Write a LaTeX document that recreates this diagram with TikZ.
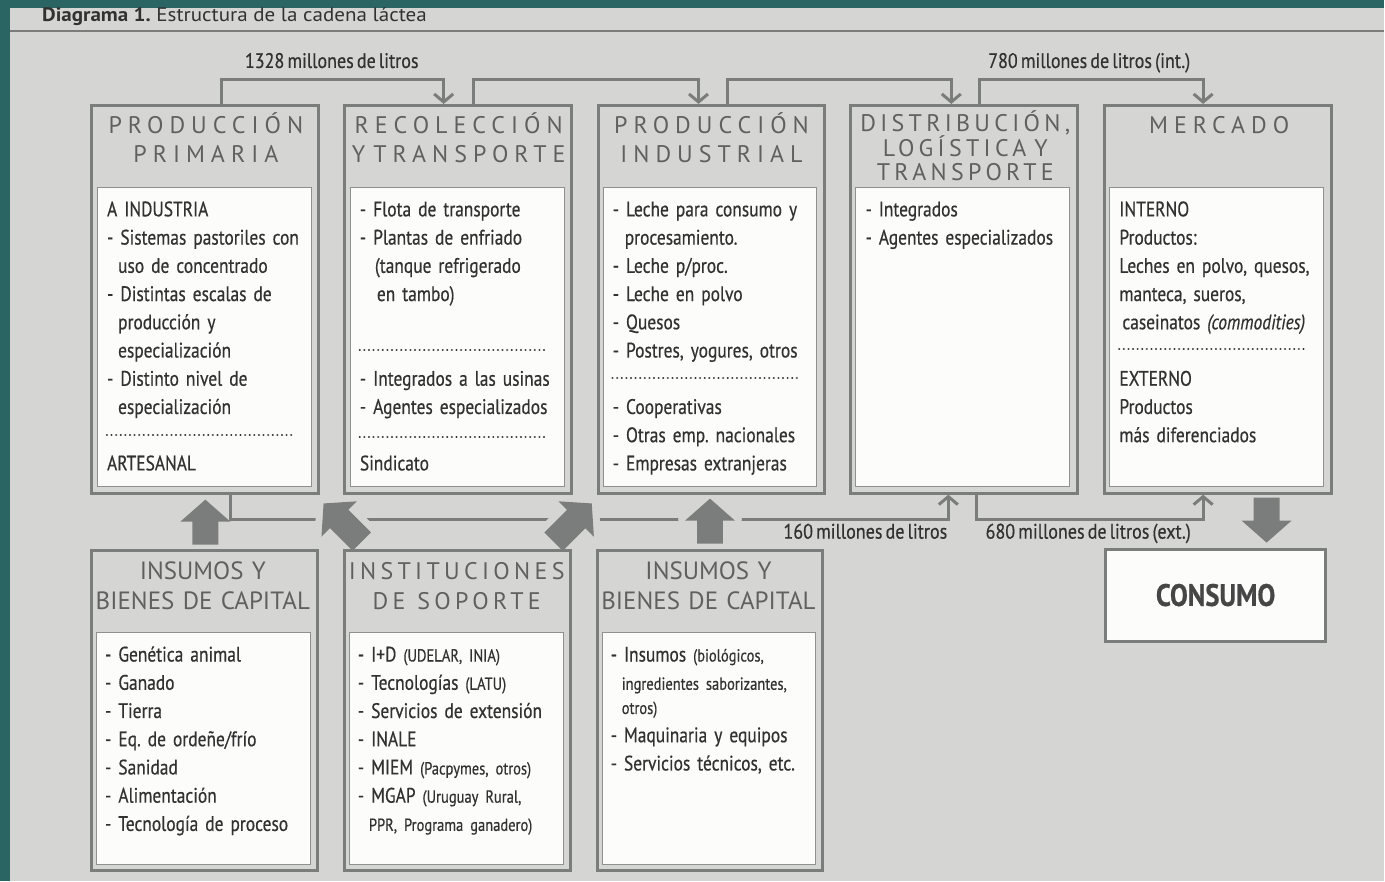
\documentclass[tikz,border=0pt]{standalone}
\usepackage{fontspec}
\setmainfont{PT Sans}
\newfontfamily\bodyf[FakeStretch=0.83,WordSpace=0.65,FakeBold=0.5]{PT Sans}
\newfontfamily\lblf[FakeStretch=0.86,WordSpace=0.65,FakeBold=0.5]{PT Sans}
\newfontfamily\titlef[FakeStretch=1.08]{PT Sans}
\newfontfamily\headf[LetterSpace=25]{PT Sans}
\newfontfamily\headg[LetterSpace=18]{PT Sans}
\newfontfamily\capf[WordSpace=0.9]{PT Sans}
\usetikzlibrary{arrows.meta}
\definecolor{bgc}{RGB}{213,214,212}
\definecolor{tealc}{RGB}{42,101,100}
\definecolor{linec}{RGB}{123,125,124}
\definecolor{boxw}{RGB}{252,252,251}
\definecolor{txtc}{RGB}{50,50,50}
\definecolor{headc}{RGB}{96,96,96}
\newcommand\smtxt[1]{{\fontsize{17.5}{20}\selectfont #1}}
\frenchspacing
\pgfdeclarelayer{back}\pgfdeclarelayer{mid}
\pgfsetlayers{back,mid,main}
\tikzset{
  outerbox/.style={draw=linec,line width=3pt,fill=bgc,inner sep=0pt,anchor=north west,minimum width=227pt},
  innerbox/.style={draw=linec!85,line width=1pt,fill=boxw,inner sep=0pt,anchor=north west,minimum width=214pt},
  headtxt/.style={font=\headf\fontsize{24}{29}\selectfont,text=headc,text width=240pt,align=center,inner sep=0pt,anchor=base},
  captxt/.style={font=\capf\fontsize{25}{30}\selectfont,text=headc,text width=240pt,align=center,inner sep=0pt,anchor=base},
  bodytxt/.style={font=\bodyf\fontsize{21}{28.25}\selectfont,text=txtc,text width=230pt,align=left,inner sep=0pt,anchor=base west},
  lbl/.style={font=\lblf\fontsize{21}{24}\selectfont,text=txtc,inner sep=0pt,anchor=base},
  conn/.style={draw=linec,line width=3pt},
  tipv/.style={-{Straight Barb[length=8pt,width=19pt,line width=3pt]}},
  dotline/.style={draw=txtc,line width=2.3pt,line cap=round,dash pattern=on 0.01pt off 4.6pt},
  pics/barrow/.style={code={\fill[linec] (-13,0) -- (-13,-#1) -- (-25,-#1) -- (0,{-#1-22}) -- (25,-#1) -- (13,-#1) -- (13,0) -- cycle;}},
  pics/barrow/.default=23,
  pics/barrowh/.style={code={\path[draw=bgc,line width=14pt,line join=round] (-13,0) -- (-13,-#1) -- (-25,-#1) -- (0,{-#1-22}) -- (25,-#1) -- (13,-#1) -- (13,0) -- cycle;
     \fill[linec] (-13,0) -- (-13,-#1) -- (-25,-#1) -- (0,{-#1-22}) -- (25,-#1) -- (13,-#1) -- (13,0) -- cycle;}},
  pics/barrowh/.default=23,
}
\begin{document}
\begin{tikzpicture}[x=1pt,y=-1pt]
\begin{pgfonlayer}{back}
\fill[bgc] (0,0) rectangle (1385,882);
\fill[tealc] (0,0) rectangle (1385,8);
\fill[tealc] (0,0) rectangle (10,882);
\draw[linec,line width=2pt] (10,31) -- (1385,31);
\end{pgfonlayer}
\useasboundingbox (0,0) rectangle (1385,882);

\node[anchor=base west,inner sep=0pt,font=\titlef\fontsize{19.5}{22}\selectfont,text=txtc] (title) at (42,22) {\textbf{Diagrama 1.} Estructura de la cadena láctea};

% top boxes
\node[outerbox,minimum height=388pt] (b1) at (90,104) {};
\node[outerbox,minimum height=388pt] (b2) at (343,104) {};
\node[outerbox,minimum height=388pt] (b3) at (597,104) {};
\node[outerbox,minimum height=388pt] (b4) at (850,104) {};
\node[outerbox,minimum height=388pt] (b5) at (1104,104) {};
\node[innerbox,minimum height=299pt] (w1) at (97,187) {};
\node[innerbox,minimum height=299pt] (w2) at (350,187) {};
\node[innerbox,minimum height=299pt] (w3) at (603,187) {};
\node[innerbox,minimum height=299pt] (w4) at (856,187) {};
\node[innerbox,minimum height=299pt] (w5) at (1110,187) {};

% bottom boxes
\node[outerbox,minimum width=226pt,minimum height=321pt] (b6) at (90,549) {};
\node[outerbox,minimum width=226pt,minimum height=321pt] (b7) at (343,549) {};
\node[outerbox,minimum width=226pt,minimum height=321pt] (b8) at (596,549) {};
\node[innerbox,minimum height=233pt] (w6) at (96,632) {};
\node[innerbox,minimum height=233pt] (w7) at (349,632) {};
\node[innerbox,minimum height=233pt] (w8) at (602,632) {};
\node[draw=linec,line width=3pt,fill=boxw,minimum width=220pt,minimum height=92pt,anchor=north west,
      font=\lblf\bfseries\fontsize{31}{31}\selectfont,text=txtc!90] (cons) at (1105,548) {CONSUMO};

% headers
\node[headtxt] (h1) at (206,134) {PRODUCCIÓN\\PRIMARIA};
\node[headtxt] (h2) at (459,134) {RECOLECCIÓN\\Y TRANSPORTE};
\node[headtxt] (h3) at (712,134) {PRODUCCIÓN\\INDUSTRIAL};
\node[headtxt,font=\headg\fontsize{24}{24.5}\selectfont] (h4) at (966,132) {DISTRIBUCIÓN,\\LOGÍSTICA Y\\TRANSPORTE};
\node[headtxt] (h5) at (1220,134) {MERCADO};
\node[captxt] (h6) at (203,580) {INSUMOS Y\\BIENES DE CAPITAL};
\node[headtxt,font=\headg\fontsize{24}{30}\selectfont] (h7) at (457,580) {INSTITUCIONES\\DE\enspace SOPORTE};
\node[captxt] (h8) at (709,580) {INSUMOS Y\\BIENES DE CAPITAL};

% body texts
\node[bodytxt] (t1) at (107,216.5) {A INDUSTRIA\\
- Sistemas pastoriles con\\
\hspace*{11pt}uso de concentrado\\
- Distintas escalas de\\
\hspace*{11pt}producción y\\
\hspace*{11pt}especialización\\
- Distinto nivel de\\
\hspace*{11pt}especialización\\[28.25pt]
ARTESANAL};
\node[bodytxt] (t2) at (360,216.5) {- Flota de transporte\\
- Plantas de enfriado\\
\hspace*{15pt}(tanque refrigerado\\
\hspace*{17pt}en tambo)\\[56.5pt]
- Integrados a las usinas\\
- Agentes especializados\\[28.25pt]
Sindicato};
\node[bodytxt] (t3) at (613,216.5) {- Leche para consumo y\\
\hspace*{12pt}procesamiento.\\
- Leche p/proc.\\
- Leche en polvo\\
- Quesos\\
- Postres, yogures, otros\\[28.25pt]
- Cooperativas\\
- Otras emp. nacionales\\
- Empresas extranjeras};
\node[bodytxt] (t4) at (866,216.5) {- Integrados\\
- Agentes especializados};
\node[bodytxt] (t5) at (1120,216.5) {INTERNO\\
Productos:\\
Leches en polvo, quesos,\\
manteca, sueros,\\
\hspace*{3pt}caseinatos \textit{(commodities)}\\[28.25pt]
EXTERNO\\
Productos\\
más diferenciados};
\node[bodytxt] (t6) at (105,662) {- Genética animal\\
- Ganado\\
- Tierra\\
- Eq. de ordeñe/frío\\
- Sanidad\\
- Alimentación\\
- Tecnología de proceso};
\node[bodytxt] (t7) at (358,662) {- I+D \smtxt{(UDELAR, INIA)}\\
- Tecnologías \smtxt{(LATU)}\\
- Servicios de extensión\\
- INALE\\
- MIEM \smtxt{(Pacpymes, otros)}\\
- MGAP \smtxt{(Uruguay Rural,}\\
\hspace*{11pt}\smtxt{PPR, Programa ganadero)}};
\node[bodytxt] (t8) at (611,662) {- Insumos \smtxt{(biológicos,}\\
\hspace*{11pt}\smtxt{ingredientes saborizantes,}\\[-4pt]
\hspace*{11pt}\smtxt{otros)}\\
- Maquinaria y equipos\\
- Servicios técnicos, etc.};

% dotted separators
\draw[dotline] (107,435) -- (293,435);
\draw[dotline] (360,350) -- (548,350);
\draw[dotline] (360,437) -- (548,437);
\draw[dotline] (613,378) -- (801,378);
\draw[dotline] (1120,349) -- (1307,349);

% labels
\node[lbl] (l1) at (332,68) {1328 millones de litros};
\node[lbl] (l2) at (1090,68) {780 millones de litros (int.)};
\node[lbl] (l3) at (866,539) {160 millones de litros};
\node[lbl] (l4) at (1089,539) {680 millones de litros (ext.)};

\begin{pgfonlayer}{mid}
\draw[conn,tipv] ([xshift=17pt]b1.north) -- ++(0,-24) -| ([xshift=-14pt]b2.north);
\draw[conn,tipv] ([xshift=16pt]b2.north) -- ++(0,-24) -| ([xshift=-13pt]b3.north);
\draw[conn,tipv] ([xshift=16pt]b3.north) -- ++(0,-24) -| ([xshift=-13pt]b4.north);
\draw[conn,tipv] ([xshift=15pt]b4.north) -- ++(0,-24) -| ([xshift=-15pt]b5.north);
\draw[conn,tipv] ([xshift=26pt]b1.south) -- ++(0,25) -| ([xshift=-16pt]b4.south);
\draw[conn,tipv] ([xshift=12pt]b4.south) -- ++(0,25) -| ([xshift=-15pt]b5.south);
\pic at ([xshift=1pt,yshift=4pt]b6.north) {barrow};
\pic[rotate=45] at ([xshift=19pt,yshift=7pt]b7.north west) {barrowh=32};
\pic[rotate=-45] at ([xshift=-18pt,yshift=7pt]b7.north east) {barrowh=32};
\pic at ([yshift=5pt]b8.north) {barrowh};
\pic[rotate=180] at ([xshift=51pt,yshift=50pt]cons.north) {barrow};
\end{pgfonlayer}
\end{tikzpicture}
\end{document}
